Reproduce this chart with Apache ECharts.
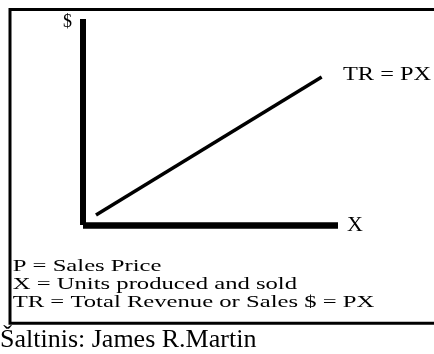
<!DOCTYPE html>
<html>
<head>
<meta charset="utf-8">
<script src="https://cdn.jsdelivr.net/npm/echarts@6/dist/echarts.min.js"></script>
<style>
  html, body { margin: 0; padding: 0; background: #fff; }
  #chart { width: 434px; height: 354px; }
</style>
</head>
<body>
<div id="chart"></div>
<script>
// Total revenue line: TR = P * X (two end points in axis units)
const revenueLine = [[0.51, 0.49], [9.36, 7.18]];
const xAxisName = 'X';
const yAxisName = '$';
const lineLabel = 'TR = PX';
const legendLines = [
  'P = Sales Price',
  'X = Units produced and sold',
  'TR = Total Revenue or Sales $ = PX'
];
const sourceNote = 'Šaltinis: James R.Martin';

const serif = '"Liberation Serif", "Times New Roman", serif';

const chart = echarts.init(document.getElementById('chart'), null, { renderer: 'canvas' });

const legendY = [266.7, 284.7, 302.5];

chart.setOption({
  backgroundColor: '#fff',
  animation: false,
  grid: { left: 83, right: 96, top: 19, bottom: 129, containLabel: false },
  xAxis: {
    type: 'value', min: 0, max: 10,
    name: xAxisName, nameLocation: 'end', nameGap: 9,
    nameTextStyle: { fontFamily: serif, fontSize: 22, color: '#000', verticalAlign: 'middle', padding: [6, 0, 0, 0] },
    axisLine: { show: true, lineStyle: { color: '#000', width: 6.5, cap: 'butt' } },
    axisTick: { show: false }, axisLabel: { show: false }, splitLine: { show: false }
  },
  yAxis: {
    type: 'value', min: 0, max: 10,
    name: yAxisName, nameLocation: 'end', nameGap: -3,
    nameTextStyle: { fontFamily: serif, fontSize: 18, color: '#000', align: 'right', verticalAlign: 'middle', padding: [0, 11, 0, 0] },
    axisLine: { show: true, lineStyle: { color: '#000', width: 6, cap: 'butt' } },
    axisTick: { show: false }, axisLabel: { show: false }, splitLine: { show: false }
  },
  series: [{
    type: 'line',
    data: revenueLine,
    symbol: 'none',
    lineStyle: { color: '#000', width: 3.5, cap: 'butt' }
  }],
  graphic: [
    {
      type: 'rect', silent: true,
      shape: { x: 10, y: 9.5, width: 440, height: 313.8 },
      style: { fill: 'none', stroke: '#000', lineWidth: 3 }
    },
    {
      type: 'text', x: 343, y: 75.3, scaleX: 1.28,
      style: { text: lineLabel, font: '19px ' + serif, fill: '#000', verticalAlign: 'middle' }
    },
    ...legendLines.map((t, i) => ({
      type: 'text', x: 12.7, y: legendY[i], scaleX: 1.45,
      style: { text: t, font: '17px ' + serif, fill: '#000', verticalAlign: 'middle' }
    })),
    {
      type: 'text', x: 0, y: 340.4,
      style: { text: sourceNote, font: '26px ' + serif, fill: '#000', verticalAlign: 'middle' }
    }
  ]
});
</script>
</body>
</html>
